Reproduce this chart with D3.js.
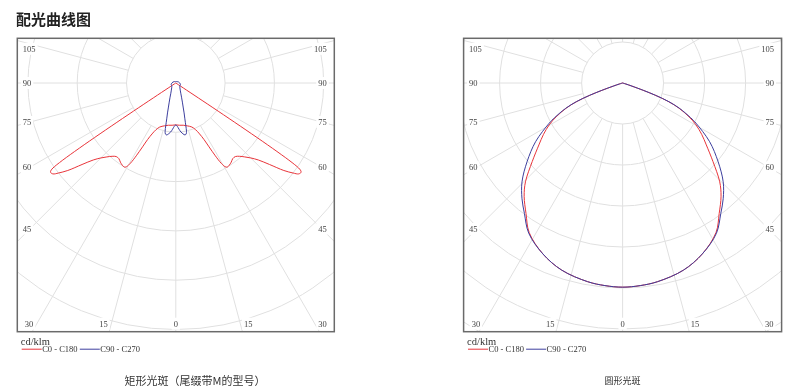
<!DOCTYPE html>
<html><head><meta charset="utf-8">
<script src="https://cdn.jsdelivr.net/npm/d3@7"></script>
<style>body{margin:0;background:#fff;} text{filter:grayscale(1);}</style>
</head><body>
<svg id="c" width="800" height="392"></svg>
<script>
// ---------- data ----------
const titleText = "配光曲线图";
const unitLabel = "cd/klm";
const legendNames = ["C0 - C180", "C90 - C270"];
const gridAngles = [0,15,30,45,60,75,90,105,120,135,150,165,180];
const tickLabels = ["0","15","30","45","60","75","90","105"];

// chart 1: rectangular beam (half-plane values, C0 = C180, C90 = C270)
const rectCaption = "矩形光斑（尾缀带M的型号）";
const rectRingStep = 100;
const rectC0Angles = [0,5,10,15,20,23,25,26.5,27.5,28.5,29.5,30.5,31.5,33,35,37,39,41,43,45,47,49,51,52.5,53.5,54.5,55.2,56,60,90,120,150,180];
const rectC0Values = [85,86,87,90,95,103,114,128,146,168,187,197,200,199,196,192,192,197,205,215,229,252,282,300,310,312,306,0,0,0,0,0,0];
const rectC90Angles = [0,2,4,6,8,10,11.5,12.5,13.2,14.2,15.5,17,19,22,26,32,40,55,70,90,110,135,160,180];
const rectC90Values = [85,88,94,100,104,107,105.5,100,89,75,63,51,41,31,23,17,13,10,10,8,6,4,3,2.8];

// chart 2: round beam
const roundCaption = "圆形光斑";
const roundRingStep = 50;
const roundC0Angles = [0,5,10,18,25,32,36.5,41,44.5,49,53.5,57,60.3,63,66,68,69.5,70.5,71.5,73,76,90,120,150,180];
const roundC0Values = [249,248,246,240,230,215,198,183,169,146,127,115,103,91,75,60,42,26,12,4,0,0,0,0,0];
const roundC90Angles = [0,5,10,18,25,32,37,41,45.5,50.5,56,61.3,63,66,68,69.5,70.5,71.5,73,76,90,120,150,180];
const roundC90Values = [249,248,246,240,230,216,199,187,172,151,128,102,93,76,61,43,27,12,4,0,0,0,0,0];

const colors = ["#e8343a", "#3d3f9e"];

// ---------- drawing ----------
const svg = d3.select("#c");
const serif = "'Liberation Serif','DejaVu Serif',serif";
const cjk = "'Noto Sans CJK SC','Noto Sans',sans-serif";

svg.append("text").attr("x", 16).attr("y", 18).attr("dominant-baseline", "central")
  .attr("font-family", cjk).attr("font-weight", "bold").attr("font-size", 15)
  .attr("fill", "#222").text(titleText);

function halfPlanePath(angles, values, rScale) {
  const pts = [];
  for (let i = angles.length - 1; i >= 0; i--) pts.push({a: Math.PI + angles[i] * Math.PI / 180, v: values[i]});
  for (let i = 1; i < angles.length - 1; i++) pts.push({a: Math.PI - angles[i] * Math.PI / 180, v: values[i]});
  const n = pts.length;
  let kept = pts.filter((p, i) => !(p.v === 0 && pts[(i - 1 + n) % n].v === 0));
  const line = d3.lineRadial().angle(d => d.a).radius(d => rScale(d.v));
  const zi = kept.findIndex(p => p.v === 0);
  if (zi >= 0) {
    kept = kept.slice(zi).concat(kept.slice(0, zi));
    kept.push(kept[0]);
    return line.curve(d3.curveCatmullRom.alpha(0.5))(kept);
  }
  return line.curve(d3.curveCatmullRomClosed.alpha(0.5))(kept);
}

function drawChart(cfg) {
  const {x, y, w, h, cyOff, ringPx, ringStep, series, caption, captionX, captionSize, id} = cfg;
  const cx = x + w / 2, cy = y + cyOff;
  const r = d3.scaleLinear().domain([0, ringStep]).range([0, ringPx]);
  const g = svg.append("g");
  g.append("clipPath").attr("id", id).append("rect").attr("x", x).attr("y", y).attr("width", w).attr("height", h);
  const gc = g.append("g").attr("clip-path", `url(#${id})`);
  const rings = d3.range(1, 9).map(k => k * ringStep);
  gc.selectAll("circle.ring").data(rings).join("circle")
    .attr("cx", cx).attr("cy", cy).attr("r", d => r(d))
    .attr("fill", "none").attr("stroke", "#e0e0e0").attr("stroke-width", 1);
  const rays = [];
  gridAngles.forEach(t => { rays.push({t, s: -1}); if (t > 0 && t < 180) rays.push({t, s: 1}); });
  gc.selectAll("line.ray").data(rays).join("line")
    .attr("x1", d => cx + d.s * r(ringStep) * Math.sin(d.t * Math.PI / 180))
    .attr("y1", d => cy + r(ringStep) * Math.cos(d.t * Math.PI / 180))
    .attr("x2", d => cx + d.s * 500 * Math.sin(d.t * Math.PI / 180))
    .attr("y2", d => cy + 500 * Math.cos(d.t * Math.PI / 180))
    .attr("stroke", "#e0e0e0").attr("stroke-width", 1);

  // tick labels
  const labels = [];
  tickLabels.forEach(lbl => {
    const t = +lbl;
    const sides = t === 0 ? [0] : [-1, 1];
    sides.forEach(s => {
      const rad = t * Math.PI / 180, sn = Math.sin(rad), co = Math.cos(rad);
      const down = y + h - 8.5 - cy;
      const halfW = w / 2 - 13;
      if (co > 1e-6 && down * sn / co <= halfW) {
        const dx = down * sn / co;
        labels.push({lbl, x: cx + s * (dx + (t > 0 ? 8 : 0)), y: y + h - 8, anchor: "middle"});
      } else {
        const yy = Math.max(cy + halfW * co / sn, y + 10.5);
        labels.push({lbl, x: s < 0 ? x + 5.5 : x + w - 7.5, y: yy, anchor: s < 0 ? "start" : "end"});
      }
    });
  });
  const lg = gc.append("g");
  labels.forEach(L => {
    const tg = lg.append("g");
    const rect = tg.append("rect").attr("fill", "#fff");
    const tx = tg.append("text").attr("x", L.x).attr("y", L.y).attr("text-anchor", L.anchor)
      .attr("dominant-baseline", "central").attr("font-family", serif).attr("font-size", 8.5)
      .attr("fill", "#444").text(L.lbl);
    const bb = tx.node().getBBox();
    rect.attr("x", bb.x - 2).attr("y", bb.y - 1).attr("width", bb.width + 4).attr("height", bb.height + 2);
  });

  // curves
  series.forEach((sr, i) => {
    gc.append("path").attr("transform", `translate(${cx},${cy})`)
      .attr("d", halfPlanePath(sr.angles, sr.values, r))
      .attr("fill", "none").attr("stroke", colors[i]).attr("stroke-width", 1);
  });

  g.append("rect").attr("x", x).attr("y", y).attr("width", w).attr("height", h)
    .attr("fill", "none").attr("stroke", "#6a6a6a").attr("stroke-width", 1.5);

  // legend
  g.append("text").attr("x", x + 3.5).attr("y", y + h + 13).attr("font-family", serif)
    .attr("font-size", 10.5).attr("fill", "#333").text(unitLabel);
  const lx = [x + 4.4, x + 62.5];
  legendNames.forEach((nm, i) => {
    g.append("line").attr("x1", lx[i]).attr("x2", lx[i] + 20).attr("y1", y + h + 17.5).attr("y2", y + h + 17.5)
      .attr("stroke", colors[i]).attr("stroke-width", 1);
    g.append("text").attr("x", lx[i] + 20.5).attr("y", y + h + 17.5).attr("dominant-baseline", "central")
      .attr("font-family", serif).attr("font-size", 8.5).attr("fill", "#333").text(nm);
  });
  g.append("text").attr("x", captionX).attr("y", 380).attr("text-anchor", "middle")
    .attr("dominant-baseline", "central").attr("font-family", cjk).attr("font-size", captionSize)
    .attr("fill", "#333").text(caption);
}

drawChart({id: "clipA", x: 17.3, y: 38.3, w: 317, h: 293.4, cyOff: 44.7, ringPx: 49.3, ringStep: rectRingStep,
  series: [{angles: rectC0Angles, values: rectC0Values}, {angles: rectC90Angles, values: rectC90Values}],
  caption: rectCaption, captionX: 195, captionSize: 11});
drawChart({id: "clipB", x: 463.6, y: 38.3, w: 318, h: 293.4, cyOff: 44.7, ringPx: 41, ringStep: roundRingStep,
  series: [{angles: roundC0Angles, values: roundC0Values}, {angles: roundC90Angles, values: roundC90Values}],
  caption: roundCaption, captionX: 622.5, captionSize: 9});
</script>
</body></html>
